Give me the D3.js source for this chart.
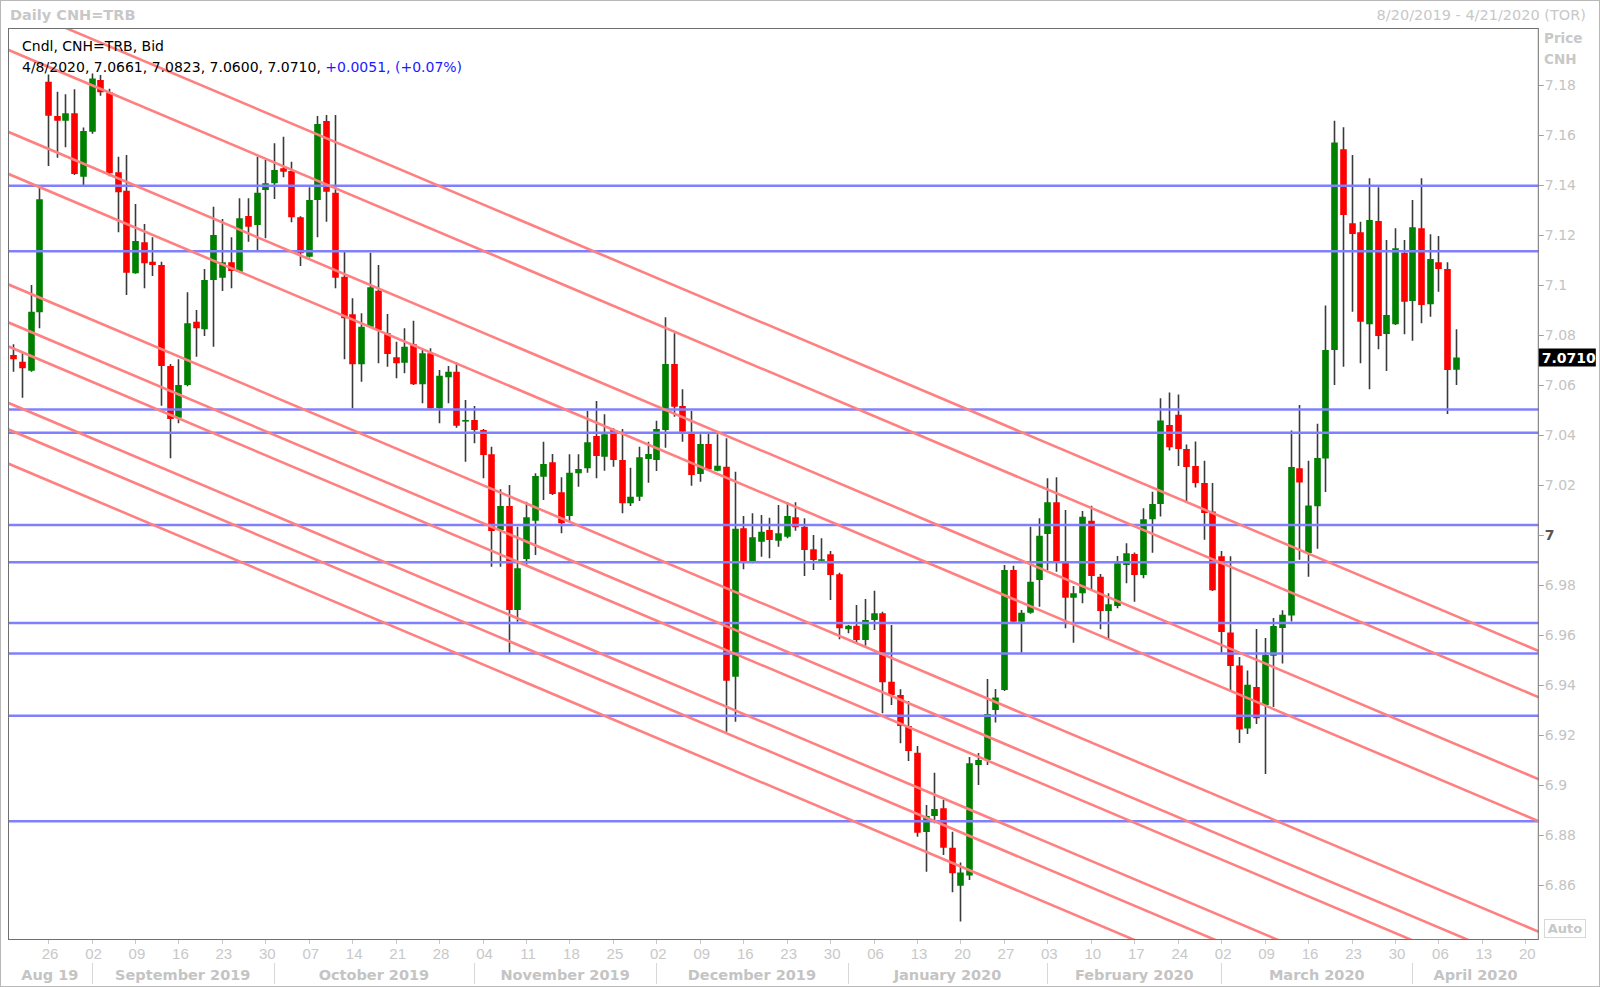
<!DOCTYPE html>
<html><head><meta charset="utf-8">
<script src="https://cdn.jsdelivr.net/npm/d3@7"></script>
<style>
html,body{margin:0;padding:0;background:#fff;}
svg{display:block;}
</style></head>
<body>
<svg id="chart" width="1600" height="987"></svg>
<script>
// ---------------- DATA ----------------
const firstDay = "2019-08-20";   // first candle
const lastDay = "2020-04-08";    // last candle
const axisLastDay = "2020-04-24";
const open = [7.072,7.0693,7.0657,7.0891,7.1813,7.1676,7.1657,7.1687,7.1433,7.1613,
7.182,7.1771,7.1451,7.1377,7.1047,7.1171,7.1093,7.108,7.0676,7.0469,
7.06,7.0853,7.0823,7.102,7.1029,7.1091,7.1053,7.1276,7.124,7.138,
7.1407,7.1467,7.1456,7.1271,7.1113,7.134,7.1656,7.1369,7.1033,7.0883,
7.0683,7.0833,7.0977,7.0807,7.0711,7.0689,7.0763,7.0603,7.0727,7.0507,
7.0631,7.0653,7.0456,7.046,7.042,7.0323,7.002,7.0116,6.97,6.9904,
7.0057,7.0233,7.0291,7.0171,7.0076,7.0247,7.0267,7.0396,7.0313,7.042,
7.03,7.0127,7.0153,7.0304,7.03,7.042,7.0684,7.0516,7.0404,7.0244,
7.0364,7.0257,7.0273,6.9433,7.0027,6.9893,6.9973,7.002,6.9977,6.9993,
7.0071,7.0033,6.9943,6.99,6.9923,6.9843,6.9623,6.9637,6.958,6.966,
6.9687,6.9413,6.936,6.9236,6.9129,6.8812,6.8876,6.8907,6.8749,6.8597,
6.8638,6.908,6.91,6.93,6.938,6.986,6.9653,6.9689,6.982,7.0004,
7.0131,6.9889,6.9749,6.9767,7.0057,6.9833,6.9696,6.9716,6.988,6.9924,
6.984,7.0063,7.0124,7.044,7.0481,7.0344,7.0276,7.0208,7.0094,6.9915,
6.961,6.9478,6.9226,6.9392,6.932,6.9517,6.9628,6.9678,7.0267,6.9928,
7.0115,7.0306,7.074,7.1543,7.1247,7.1211,7.0843,7.1256,7.0804,7.0843,
7.1129,7.0936,7.1227,7.0923,7.1091,7.1064,7.0661];
const high = [7.0763,7.0727,7.1,7.1389,7.1842,7.1773,7.1763,7.1783,7.163,7.1846,
7.184,7.1785,7.1513,7.152,7.1324,7.1244,7.1191,7.1093,7.0684,7.0703,
7.0971,7.09,7.1064,7.1313,7.1264,7.1191,7.1347,7.1347,7.1513,7.15,
7.1567,7.1593,7.1493,7.1275,7.1391,7.1676,7.168,7.168,7.114,7.0947,
7.0887,7.1129,7.108,7.0884,7.0773,7.0827,7.0857,7.074,7.0747,7.066,
7.0676,7.0691,7.054,7.0516,7.0424,7.0353,7.0183,7.02,7.0033,7.0133,
7.0247,7.0373,7.0324,7.0231,7.0323,7.0323,7.0496,7.0536,7.0483,7.0427,
7.0424,7.0269,7.0353,7.0373,7.0457,7.0871,7.0807,7.0583,7.0496,7.0403,
7.0407,7.0403,7.0387,7.0253,7.0076,7.0087,7.008,7.0069,7.012,7.0131,
7.0131,7.0067,7.0,6.9987,6.9936,6.9849,6.964,6.972,6.9744,6.9777,
6.9693,6.964,6.9383,6.9336,6.9156,6.892,6.9049,6.894,6.8813,6.869,
6.9112,6.9128,6.9424,6.9384,6.988,6.9877,6.97,7.0033,7.0067,7.0227,
7.0231,7.01,6.9796,7.0096,7.0117,6.9844,6.9767,6.9916,6.9967,6.993,
7.0107,7.0173,7.0547,7.057,7.0562,7.0362,7.0374,7.0297,7.0208,6.9936,
6.9915,6.9512,6.9458,6.9624,6.9588,6.9668,6.9699,7.0418,7.052,7.0297,
7.0445,7.0918,7.1657,7.1631,7.152,7.1253,7.1427,7.1391,7.118,7.1227,
7.118,7.134,7.1427,7.1203,7.1196,7.1091,7.0823];
const low = [7.0653,7.0549,7.0653,7.0827,7.1476,7.1509,7.1551,7.144,7.14,7.1605,
7.1757,7.1435,7.1211,7.096,7.1045,7.0987,7.1036,7.0517,7.0307,7.0447,
7.0595,7.0713,7.0796,7.0753,7.0976,7.0987,7.105,7.1173,7.1137,7.1187,
7.1344,7.1431,7.1251,7.1076,7.111,7.1191,7.1253,7.0987,7.0703,7.0507,
7.0613,7.083,7.0687,7.0673,7.0627,7.0647,7.06,7.0527,7.0505,7.0447,
7.0527,7.0429,7.0293,7.0367,7.0227,6.9873,6.9873,6.9527,6.9653,6.988,
6.992,7.014,7.016,7.0007,7.0053,7.0193,7.0249,7.0227,7.0257,7.0273,
7.0087,7.0116,7.0136,7.0209,7.0256,7.0349,7.0473,7.0373,7.0197,7.0213,
7.026,7.0255,6.9213,6.9253,6.9863,6.9887,6.9913,6.9907,6.9953,6.9987,
7.0017,6.9836,6.986,6.9898,6.974,6.9583,6.9607,6.9567,6.9557,6.962,
6.9287,6.932,6.9167,6.9096,6.8793,6.8653,6.8847,6.872,6.8571,6.8454,
6.862,6.9,6.908,6.925,6.9376,6.965,6.9529,6.9685,6.9713,6.986,
6.9853,6.9627,6.9569,6.9727,6.978,6.9623,6.9583,6.9707,6.9807,6.9733,
6.9827,6.9929,7.0074,7.0338,7.0276,7.0128,7.019,6.9981,6.9776,6.9529,
6.9374,6.9168,6.9204,6.9244,6.9044,6.9312,6.9486,6.9654,6.9901,6.9833,
6.9945,7.0172,7.06,7.0673,7.0893,7.0687,7.0583,7.0743,7.0656,7.084,
7.0803,7.0777,7.0847,7.0873,7.0973,7.0484,7.06];
const close = [7.0703,7.0667,7.0893,7.1343,7.1677,7.1657,7.1687,7.1444,7.1616,7.1826,
7.1771,7.1447,7.1371,7.1049,7.1176,7.1087,7.108,7.0676,7.0464,7.06,
7.0847,7.0827,7.102,7.12,7.1091,7.1056,7.1267,7.1233,7.1369,7.1407,
7.146,7.1453,7.1271,7.1127,7.134,7.1644,7.1373,7.1029,7.0867,7.0683,
7.0833,7.0991,7.082,7.0724,7.0687,7.0753,7.0603,7.0727,7.0507,7.0637,
7.0653,7.0437,7.046,7.042,7.032,7.0016,7.0116,6.97,6.9867,7.0071,
7.0236,7.0284,7.0164,7.0047,7.0249,7.0264,7.0371,7.0316,7.0403,7.03,
7.0127,7.0153,7.0311,7.0324,7.0424,7.0684,7.0513,7.0413,7.024,7.0364,
7.0263,7.0277,6.9417,7.0025,6.9893,6.9991,7.0013,6.998,7.0007,7.0076,
7.0031,6.994,6.99,6.9903,6.984,6.9627,6.9637,6.958,6.966,6.9687,
6.9411,6.936,6.9236,6.9136,6.8809,6.8876,6.8904,6.8749,6.8647,6.865,
6.9087,6.91,6.9284,6.935,6.986,6.9653,6.9689,6.9813,6.9997,7.0131,
6.9893,6.9749,6.9767,7.0073,6.9836,6.9696,6.9723,6.9887,6.9927,6.984,
7.0063,7.0124,7.0458,7.0351,7.0344,7.0272,7.0208,7.0088,6.9779,6.9612,
6.9476,6.9222,6.9401,6.9267,6.952,6.9636,6.9681,7.0272,7.021,7.0118,
7.0308,7.074,7.157,7.128,7.1204,7.0853,7.126,7.0796,7.088,7.1147,
7.0933,7.1231,7.092,7.1104,7.1064,7.066,7.071];
const priceTicks = [6.86,6.88,6.9,6.92,6.94,6.96,6.98,7.0,7.02,7.04,7.06,7.08,7.1,7.12,7.14,7.16,7.18];
const horizontalLevels = [7.1397,7.1135,7.0502,7.0409,7.0040,6.9891,6.9648,6.9526,6.9277,6.8855];
// parallel down-trend channel lines: value at first candle day and at 2020-04-21
const trendStartValue = [7.2117,7.1932,7.1604,7.1436,7.0994,7.0842,7.0746,7.0520,7.0414,7.0277];
const trendEndValue   = [6.9544,6.9359,6.9031,6.8863,6.8421,6.8269,6.8173,6.7947,6.7841,6.7704];
const trendEndDay = "2020-04-21";
const monthLabels = ["Aug 19","September 2019","October 2019","November 2019","December 2019","January 2020","February 2020","March 2020","April 2020"];
const headerLeft = "Daily CNH=TRB";
const headerRight = "8/20/2019 - 4/21/2020 (TOR)";
const legendLine1 = "Cndl, CNH=TRB, Bid";
const legendLine2a = "4/8/2020, 7.0661, 7.0823, 7.0600, 7.0710, ";
const legendLine2b = "+0.0051, (+0.07%)";
const lastPriceLabel = "7.0710";

// ---------------- LAYOUT ----------------
const W = 1600, H = 987;
const plot = {l: 8, t: 28, r: 1538.8, b: 940};
const parse = d3.timeParse("%Y-%m-%d");
const weekdays = d3.timeDay.range(parse(firstDay), d3.timeDay.offset(parse(axisLastDay), 1))
  .filter(d => d.getDay() !== 0 && d.getDay() !== 6);
const nCandles = open.length;
const idxOf = d => weekdays.findIndex(w => +w === +d);

const x = d3.scaleLinear().domain([-0.61, 175.55]).range([plot.l, plot.r]);
const y = d3.scaleLinear().domain([6.838, 7.2028]).range([plot.b, plot.t]);

const svg = d3.select("#chart");
const fontUI = "'DejaVu Sans', Verdana, sans-serif";

// outer frame
svg.append("rect").attr("x",0.5).attr("y",0.5).attr("width",W-1).attr("height",H-1)
  .attr("fill","#fff").attr("stroke","#b8b8b8");

// header
svg.append("text").attr("x",10).attr("y",20).attr("font-family",fontUI).attr("font-weight","bold")
  .attr("font-size",14.5).attr("fill","#c8c8c8").text(headerLeft);
svg.append("text").attr("x",1586).attr("y",20).attr("text-anchor","end").attr("font-family",fontUI)
  .attr("font-size",14.5).attr("fill","#c8c8c8").text(headerRight);

// plot background
svg.append("rect").attr("x",plot.l).attr("y",plot.t).attr("width",plot.r-plot.l).attr("height",plot.b-plot.t)
  .attr("fill","#fff");

svg.append("defs").append("clipPath").attr("id","clip").append("rect")
  .attr("x",plot.l).attr("y",plot.t).attr("width",plot.r-plot.l).attr("height",plot.b-plot.t);

const g = svg.append("g").attr("clip-path","url(#clip)");

// candles
const candles = d3.range(nCandles).map(i => ({i, o: open[i], h: high[i], l: low[i], c: close[i]}));
const cg = g.append("g");
cg.selectAll("line.wick").data(candles).join("line").attr("class","wick")
  .attr("x1",d=>Math.round(x(d.i))+0.5).attr("x2",d=>Math.round(x(d.i))+0.5)
  .attr("y1",d=>y(d.h)).attr("y2",d=>y(d.l))
  .attr("stroke","#3a3a3a").attr("stroke-width",1.6);
cg.selectAll("rect.body").data(candles).join("rect").attr("class","body")
  .attr("x",d=>Math.round(x(d.i))+0.5-3.3).attr("width",6.6)
  .attr("y",d=>y(Math.max(d.o,d.c)))
  .attr("height",d=>Math.max(1.6, Math.abs(y(d.o)-y(d.c))))
  .attr("fill",d=>d.c>=d.o ? "#008000" : "#ff0000");

// horizontal levels
g.selectAll("line.level").data(horizontalLevels).join("line").attr("class","level")
  .attr("x1",plot.l).attr("x2",plot.r).attr("y1",d=>y(d)).attr("y2",d=>y(d))
  .attr("stroke","#8080ff").attr("stroke-width",2.6);

// trend lines
const endIdx = idxOf(parse(trendEndDay));
g.selectAll("line.trend").data(trendStartValue.map((v,k)=>({v0:v, v1:trendEndValue[k]}))).join("line")
  .attr("class","trend")
  .attr("x1",x(-5)).attr("x2",x(185))
  .attr("y1",d=>y(d.v0 + (d.v1-d.v0)*(-5)/endIdx))
  .attr("y2",d=>y(d.v0 + (d.v1-d.v0)*(185)/endIdx))
  .attr("stroke","#ff8080").attr("stroke-width",2.6);

// plot border
svg.append("rect").attr("x",plot.l+0.5).attr("y",plot.t+0.5).attr("width",plot.r-plot.l-1).attr("height",plot.b-plot.t-1)
  .attr("fill","none").attr("stroke","#707070");

// legend
const lg = svg.append("text").attr("font-family",fontUI).attr("font-size",14).attr("fill","#000");
lg.append("tspan").attr("x",22).attr("y",51).text(legendLine1);
const lg2 = svg.append("text").attr("x",22).attr("y",72).attr("font-family",fontUI).attr("font-size",14).attr("fill","#000");
lg2.append("tspan").text(legendLine2a);
lg2.append("tspan").attr("fill","#1a1aff").text(legendLine2b);

// right price axis
const yAxis = svg.append("g");
yAxis.selectAll("line").data(priceTicks).join("line")
  .attr("x1",plot.r).attr("x2",plot.r+5).attr("y1",d=>Math.round(y(d))+0.5).attr("y2",d=>Math.round(y(d))+0.5)
  .attr("stroke","#a0a0a0");
yAxis.selectAll("text").data(priceTicks).join("text")
  .attr("x",plot.r+6).attr("y",d=>y(d)+5)
  .attr("font-family",fontUI).attr("font-size",14)
  .attr("font-weight",d=>d===7?"bold":"normal")
  .attr("fill",d=>d===7?"#555":"#c4c4c4")
  .text(d=>d3.format("~g")(d));
svg.append("text").attr("x",1544).attr("y",43).attr("font-family",fontUI).attr("font-weight","bold")
  .attr("font-size",13.5).attr("fill","#c8c8c8").text("Price");
svg.append("text").attr("x",1544).attr("y",64).attr("font-family",fontUI).attr("font-weight","bold")
  .attr("font-size",13.5).attr("fill","#c8c8c8").text("CNH");
// last price label
const lastY = y(close[nCandles-1]);
svg.append("rect").attr("x",plot.r).attr("y",lastY-9).attr("width",57).attr("height",18).attr("fill","#000");
svg.append("text").attr("x",plot.r+3).attr("y",lastY+5).attr("font-family",fontUI).attr("font-weight","bold")
  .attr("font-size",14).attr("fill","#fff").text(lastPriceLabel);
// Auto box
svg.append("rect").attr("x",1544.5).attr("y",919.5).attr("width",41).attr("height",18)
  .attr("fill","#fff").attr("stroke","#d8d8d8");
svg.append("text").attr("x",1565).attr("y",933).attr("text-anchor","middle").attr("font-family",fontUI)
  .attr("font-weight","bold").attr("font-size",13).attr("fill","#c8c8c8").text("Auto");

// bottom date axis
const mondays = weekdays.map((d,i)=>({d,i})).filter(o=>o.d.getDay()===1 && o.i>0);
const xa = svg.append("g");
xa.selectAll("line").data(mondays).join("line")
  .attr("x1",o=>Math.round(x(o.i))+0.5).attr("x2",o=>Math.round(x(o.i))+0.5)
  .attr("y1",plot.b).attr("y2",plot.b+4).attr("stroke","#c8c8c8");
xa.selectAll("text").data(mondays).join("text")
  .attr("x",o=>x(o.i)+2).attr("y",959).attr("text-anchor","middle")
  .attr("font-family","'Liberation Sans', Arial, sans-serif").attr("font-size",15).attr("fill","#c8c8c8")
  .text(o=>d3.timeFormat("%d")(o.d));
// month separators and labels
const monthStarts = [];
weekdays.forEach((d,i)=>{ if(i>0 && d.getMonth()!==weekdays[i-1].getMonth()) monthStarts.push(i); });
const bounds = [plot.l, ...monthStarts.map(i=>x(i)), plot.r];
xa.selectAll("line.sep").data(monthStarts).join("line").attr("class","sep")
  .attr("x1",i=>Math.round(x(i))+0.5).attr("x2",i=>Math.round(x(i))+0.5)
  .attr("y1",963).attr("y2",984).attr("stroke","#d8d8d8");
xa.selectAll("text.month").data(monthLabels).join("text").attr("class","month")
  .attr("x",(m,k)=>(bounds[k]+bounds[k+1])/2).attr("y",980).attr("text-anchor","middle")
  .attr("font-family",fontUI).attr("font-weight","bold").attr("font-size",14.5).attr("fill","#c4c4c4")
  .text(m=>m);
</script>
</body></html>
